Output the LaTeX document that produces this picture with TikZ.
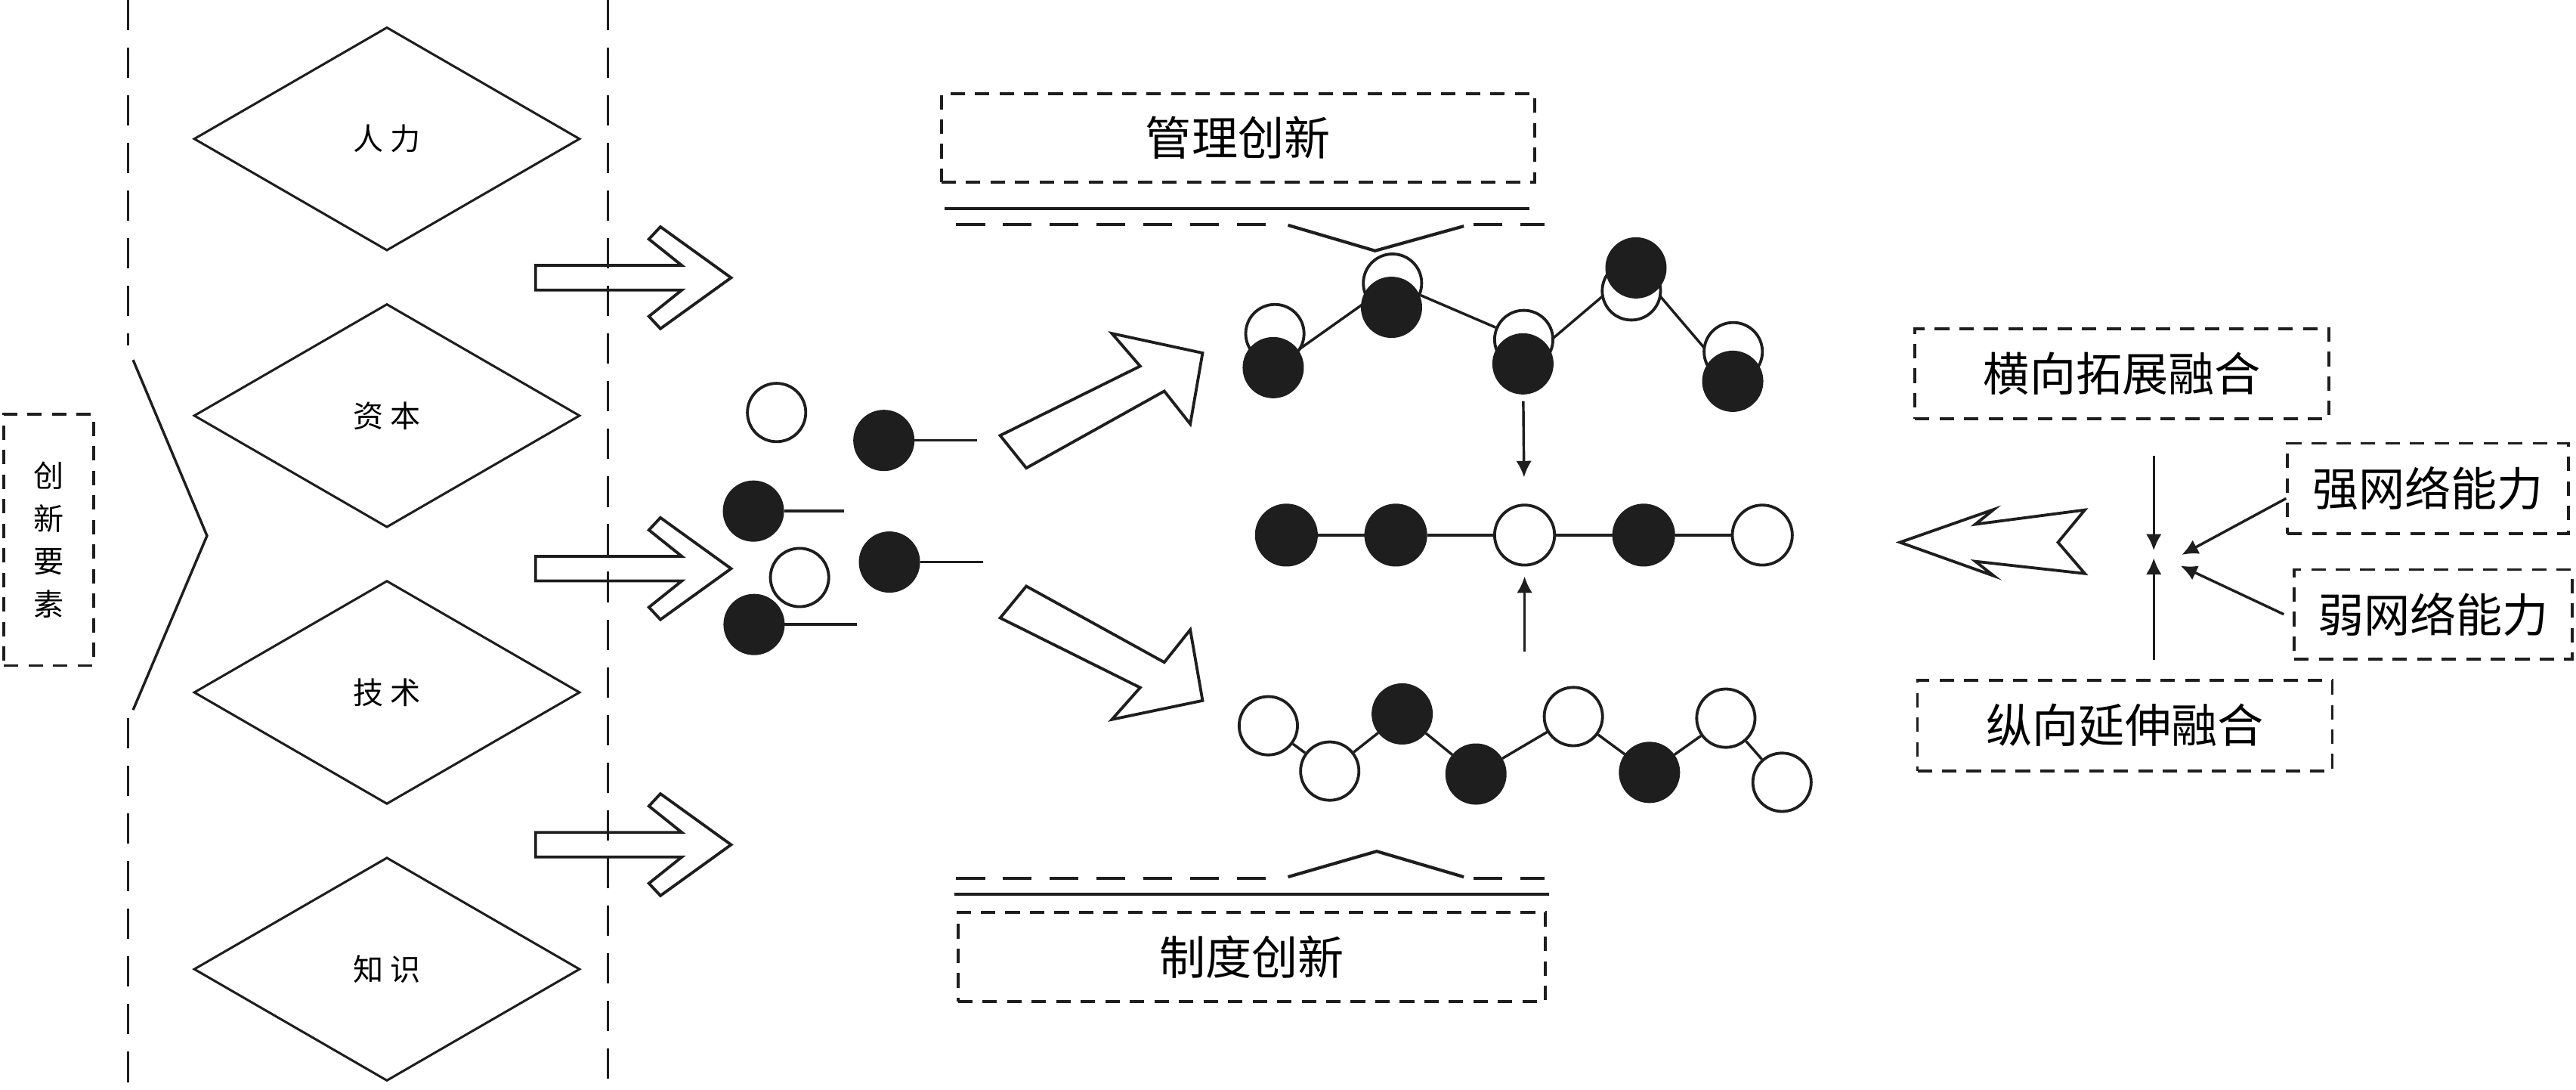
\documentclass[tikz,border=0pt]{standalone}
\usepackage{fontspec}
\newfontfamily\zhfont{Noto Sans CJK SC}
\usepackage{tikz}
\usetikzlibrary{arrows.meta, positioning, shapes.geometric, backgrounds}
\definecolor{ink}{RGB}{30,30,30}

\begin{document}
\begin{tikzpicture}[x=0.2mm, y=-0.2mm]
\tikzset{elem/.style={diamond, draw=ink, line width=0.8pt, minimum width=47mm, minimum height=27.2mm, inner sep=0pt, font=\zhfont\fontsize{10.5}{12}\selectfont},
		frame/.style={rectangle, draw=ink, line width=1pt, dash pattern=on 5pt off 3.5pt, align=center, inner sep=0pt, font=\zhfont\fontsize{16}{19}\selectfont},
		open/.style={circle, draw=ink, line width=1pt, fill=white, minimum size=7.1mm, inner sep=0pt},
		full/.style={circle, draw=ink, fill=ink, line width=1pt, minimum size=7.1mm, inner sep=0pt},
		link/.style={draw=ink, line width=0.9pt},
		arr/.style={draw=ink, line width=0.9pt, -{Latex[length=2mm, width=1.9mm]}},
		hollow/.style={draw=ink, line width=1pt, line join=miter},
		sep/.style={draw=ink, line width=1pt, dash pattern=on 10.5pt off 6pt},
		rule/.style={draw=ink, line width=1.1pt, dash pattern=on 10pt off 6.2pt}}
\useasboundingbox (0,0) rectangle (1568,663);
\draw[sep] (78,0) -- (78,210);
\draw[ink, line width=0.9pt] (81,219) -- (126,326) -- (81,432);
\draw[sep] (78,437) -- (78,663);
\draw[sep] (370,0) -- (370,663);
\node[frame, minimum width=10.9mm, minimum height=30.6mm, font=\zhfont\fontsize{10.5}{14.8}\selectfont] (CXYS) at (29.7,328.5) {创\\新\\要\\素};
\node[elem] (RL) at (235.5,84.5) {人\hspace{2.5pt}力};
\node[elem, below=6.2mm of RL] (ZB) {资\hspace{2.5pt}本};
\node[elem, below=6.2mm of ZB] (JS) {技\hspace{2.5pt}术};
\node[elem, below=6.2mm of JS] (ZS) {知\hspace{2.5pt}识};
\foreach \y in {169,346,514}
	\draw[hollow] (326,{\y-7.5}) -- (415,{\y-7.5}) -- (395,{\y-23.5}) -- (402,{\y-31}) -- (445,\y) -- (402,{\y+31}) -- (395,{\y+23.5}) -- (415,{\y+7.5}) -- (326,{\y+7.5}) -- cycle;
\node[open] (P1) at (472.7,251) {};
\node[full] (P2) at (538,268) {};
\node[full] (P3) at (458.6,311) {};
\node[open] (P4) at (486.7,351.4) {};
\node[full] (P5) at (541.4,342) {};
\node[full] (P6) at (459,380) {};
\foreach \n/\l in {P2/38, P3/36.6, P5/38.5, P6/44}
	\draw[link] (\n.east) -- ++(\l,0);
\draw[hollow] (608.8,265) -- (694,222.8) -- (676.8,202.9) -- (732,214.8) -- (724.5,258) -- (708.7,238) -- (624.7,284.8) -- cycle;
\draw[hollow] (624.7,356.7) -- (708.7,403) -- (724.5,383.2) -- (732,426.3) -- (676.8,437.8) -- (694,418.4) -- (608.8,376) -- cycle;
\node[frame, minimum width=72.2mm, minimum height=10.8mm] (GLCX) at (753.5,84) {管理创新};
\draw[ink, line width=1.1pt] (575,127) -- (931,127);
\draw[rule] (582,136.5) -- (778,136.5);
\draw[ink, line width=1.1pt] (784,137) -- (837,152.6) -- (891,137.6);
\draw[rule] (897,136.5) -- (940,136.5);
\node[open] (T1o) at (776,203) {};
\node[full] (T1f) at (775,223.7) {};
\node[open] (T2o) at (847.6,172.3) {};
\node[full] (T2f) at (847,187) {};
\node[open] (T3o) at (927.5,206.6) {};
\node[full] (T3f) at (927,221.4) {};
\node[open] (T4o) at (993,177) {};
\node[full] (T4f) at (995.8,163) {};
\node[open] (T5o) at (1055,214) {};
\node[full] (T5f) at (1054.7,232) {};
\begin{scope}[on background layer]
\draw[link] (T1f) -- (T2o) -- (T3o);
\draw[link] (T3f) -- (T4f) -- (T5f);
\end{scope}
\node[full, minimum size=7.3mm] (M1) at (783,325.6) {};
\node[full, minimum size=7.3mm] (M2) at (849.6,325.6) {};
\node[open, minimum size=7.3mm] (M3) at (928,325.6) {};
\node[full, minimum size=7.3mm] (M4) at (1000.5,325.6) {};
\node[open, minimum size=7.3mm] (M5) at (1072.7,325.6) {};
\draw[link] (M1) -- (M2) -- (M3) -- (M4) -- (M5);
\draw[arr, shorten <=0.8mm, shorten >=3.2mm] (T3f) -- (M3);
\coordinate (up0) at (928,396.5);
\draw[arr, shorten >=1.2mm] (up0) -- (M3);
\node[open] (B1) at (772,441.6) {};
\node[open] (B2) at (809.4,469.2) {};
\node[full] (B3) at (853.5,434.4) {};
\node[full] (B4) at (898.4,471) {};
\node[open] (B5) at (957.7,436) {};
\node[full] (B6) at (1004,470) {};
\node[open] (B7) at (1050.5,437) {};
\node[open] (B8) at (1084.7,476) {};
\draw[link] (B1) -- (B2) -- (B3) -- (B4) -- (B5) -- (B6) -- (B7) -- (B8);
\draw[rule] (582,534.5) -- (777,534.5);
\draw[ink, line width=1.1pt] (784,533.6) -- (838,518) -- (891,533.6);
\draw[rule] (897,534.5) -- (940,534.5);
\draw[ink, line width=1.1pt] (581,544.3) -- (943,544.3);
\node[frame, minimum width=71.5mm, minimum height=10.9mm] (ZDCX) at (761.9,582.3) {制度创新};
\node[frame, minimum width=50.4mm, minimum height=10.9mm] (HX) at (1291.7,227.4) {横向拓展融合};
\node[frame, minimum width=50.5mm, minimum height=11mm] (ZX) at (1293.4,441.5) {纵向延伸融合};
\node[frame, minimum width=34.2mm, minimum height=11mm] (QW) at (1477.9,297.3) {强网络能力};
\node[frame, minimum width=33.8mm, minimum height=10.9mm] (RW) at (1481,373.8) {弱网络能力};
\coordinate (Jt) at (1311,335);
\coordinate (Jb) at (1311,339.5);
\coordinate (Jr1) at (1328,337.6);
\coordinate (Jr2) at (1327.3,344.3);
\draw[arr, shorten <=4.4mm] (HX.south -| Jt) -- (Jt);
\draw[arr, shorten <=2.3mm] (ZX.north -| Jb) -- (Jb);
\draw[arr] ([yshift=-1.2mm]QW.west) -- (Jr1);
\draw[arr] ([xshift=-1.1mm]RW.west) -- (Jr2);
\draw[hollow] (1156.5,330) -- (1213.6,310) -- (1202.4,319) -- (1269,310.3) -- (1252.7,330) -- (1269,349) -- (1202.4,341.6) -- (1213.6,350.4) -- cycle;
\end{tikzpicture}
\end{document}
